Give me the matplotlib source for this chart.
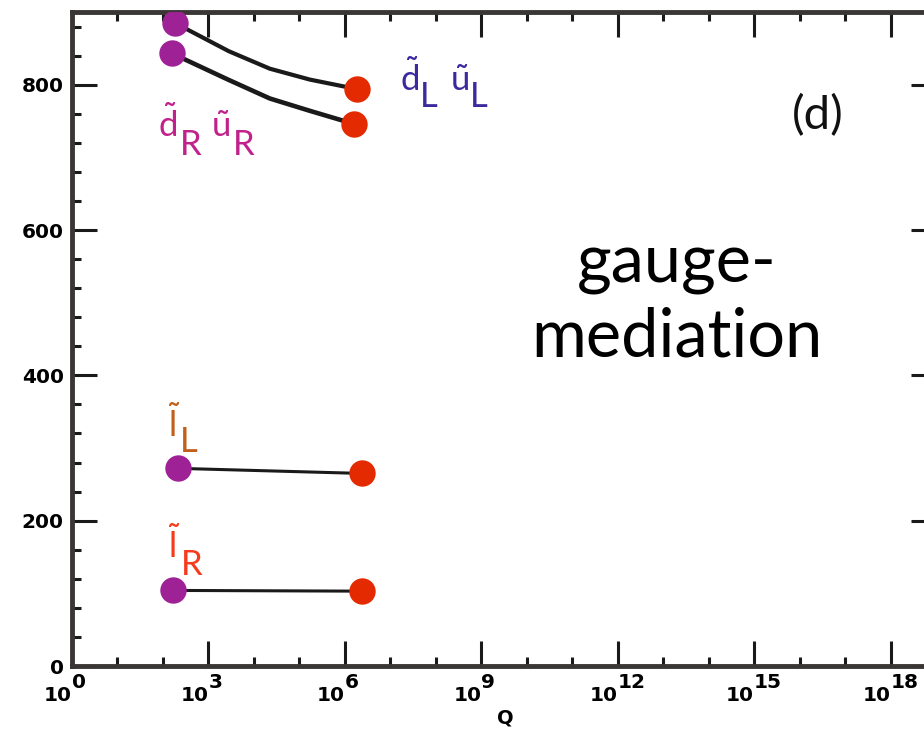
import numpy as np
import matplotlib
matplotlib.use("Agg")
import matplotlib.pyplot as plt
from matplotlib.ticker import FixedLocator, NullFormatter
from matplotlib.transforms import blended_transform_factory

plt.rcParams['mathtext.fontset'] = 'custom'
plt.rcParams['mathtext.rm'] = 'Lato'
plt.rcParams['mathtext.it'] = 'Lato:italic'
plt.rcParams['mathtext.bf'] = 'Lato:bold'

# ---- data ----
sqL_logQ = [2.26, 3.45, 4.35, 5.23, 6.26]
sqL_mass = [885, 846, 822, 807, 794]
sqR_logQ = [2.20, 3.43, 4.35, 5.23, 6.20]
sqR_mass = [843, 807, 781, 764, 746]
slL_logQ = [2.33, 6.37]
slL_mass = [272, 265]
slR_logQ = [2.22, 6.37]
slR_mass = [104, 103]

x_major_exp = [0, 3, 6, 9, 12, 15, 18]
x_minor_exp = [e for e in range(0, 20) if e % 3 != 0]
y_major = [0, 200, 400, 600, 800]
y_minor = list(range(0, 901, 40))

MAGENTA = '#9e2196'
RED = '#e32a00'
LINE = '#1a1a1a'
SPINE = '#3a3636'

W, H = 924, 732
fig = plt.figure(figsize=(W / 100, H / 100), dpi=100)
ax = fig.add_axes([72 / W, (H - 666) / H, (936 - 72) / W, (666 - 12) / H])

curves = [
    (sqL_logQ, sqL_mass, 3.0),
    (sqR_logQ, sqR_mass, 3.3),
    (slL_logQ, slL_mass, 2.2),
    (slR_logQ, slR_mass, 2.2),
]
for lq, m, lw in curves:
    q = 10 ** np.array(lq)
    ax.plot(q, m, color=LINE, lw=lw, zorder=2, solid_capstyle='butt',
            solid_joinstyle='round')
    ax.plot(q[0], m[0], 'o', ms=19, color=MAGENTA, mew=0, zorder=3)
    ax.plot(q[-1], m[-1], 'o', ms=19, color=RED, mew=0, zorder=3)

ax.set_xscale('log')
ax.set_xlim(1, 1e19)
ax.set_ylim(0, 900)

ax.xaxis.set_major_locator(FixedLocator([10.0 ** e for e in x_major_exp]))
ax.xaxis.set_minor_locator(FixedLocator([10.0 ** e for e in x_minor_exp]))
ax.xaxis.set_major_formatter(NullFormatter())
ax.xaxis.set_minor_formatter(NullFormatter())
ax.yaxis.set_major_locator(FixedLocator(y_major))
ax.yaxis.set_minor_locator(FixedLocator([v for v in y_minor if v not in y_major]))

ax.tick_params(which='both', direction='in', top=True, right=True,
               color=LINE, width=2.2)
ax.tick_params(which='major', length=18)
ax.tick_params(which='minor', length=6.5)
ax.tick_params(axis='y', which='major', pad=6, labelsize=14.5)
for lab in ax.get_yticklabels():
    lab.set_fontweight('bold')
for s in ax.spines.values():
    s.set_color(SPINE)
    s.set_linewidth(3.5)

# x tick labels: "10" with full-size raised exponent
tr = blended_transform_factory(ax.transData, ax.transAxes)
for e in x_major_exp:
    ax.text(10.0 ** e, -0.053, '10', transform=tr, ha='right', va='baseline',
            fontsize=14.5, fontweight='bold', clip_on=False)
    ax.text(10.0 ** e, -0.034, str(e), transform=tr, ha='left', va='baseline',
            fontsize=14.5, fontweight='bold', clip_on=False)

ax.set_xlabel('Q', fontsize=14, fontweight='bold')
ax.xaxis.set_label_coords((505 - 72) / 864, (666 - 708) / 654)
ax.xaxis.label.set_va('top')


def px(x, y):
    return x / W, 1 - y / H


def sf_label(x, y, main, sub, color, dx_sub, dy_sub, size=25):
    fig.text(*px(x, y), r'$\tilde{\mathrm{%s}}$' % main, ha='left', va='baseline',
             fontsize=size, color=color)
    fig.text(*px(x + dx_sub, y + dy_sub), sub, ha='left', va='baseline',
             fontsize=size, color=color, family='Lato')


BLUE = '#3a2a9e'
PINK = '#c0218a'
BROWN = '#c0601c'
LRED = '#f53a1e'

sf_label(400, 91, 'd', 'L', BLUE, 20, 16)
sf_label(450, 91, 'u', 'L', BLUE, 20, 16)
sf_label(158, 137, 'd', 'R', PINK, 22, 18)
sf_label(211, 137, 'u', 'R', PINK, 22, 18)
sf_label(168, 437, 'l', 'L', BROWN, 12, 15)
sf_label(168, 558, 'l', 'R', LRED, 13, 17)

fig.text(*px(818, 129), '(d)', ha='center', va='baseline', fontsize=34,
         family='Lato', color='#111111')
fig.text(*px(677, 283), 'gauge-', ha='center', va='baseline', fontsize=48,
         family='Lato', color='black')
fig.text(*px(677, 357), 'mediation', ha='center', va='baseline', fontsize=48,
         family='Lato', color='black')

fig.savefig('out.png', dpi=100)
